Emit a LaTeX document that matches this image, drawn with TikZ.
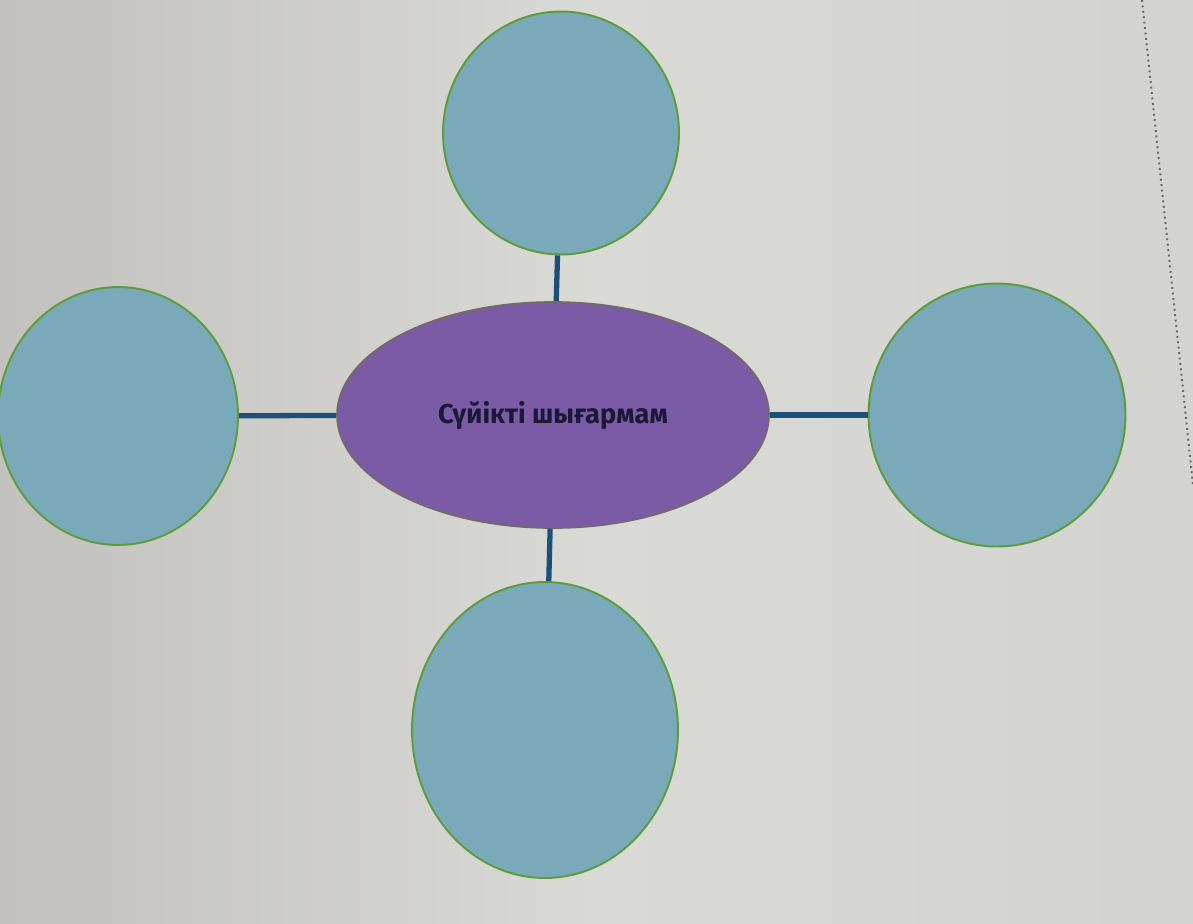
\documentclass[tikz,border=0pt]{standalone}
\usepackage{fontspec}
\setmainfont{Fira Sans}
\usepackage{xcolor}
\usetikzlibrary{shapes.geometric, positioning, backgrounds}

\definecolor{paperdark}{HTML}{C2C1BE}
\definecolor{paperlight}{HTML}{D9D9D6}
\definecolor{bubblefill}{HTML}{7AA9BA}
\definecolor{bubbleline}{HTML}{5E9C3A}
\definecolor{topicfill}{HTML}{7B5BA6}
\definecolor{topicline}{HTML}{716A69}
\definecolor{linkblue}{HTML}{1D4F79}
\definecolor{textnavy}{HTML}{1B1838}

\tikzset{
    bubble/.style={ellipse, fill=bubblefill, draw=bubbleline, line width=1.1pt},
    topic/.style={ellipse, fill=topicfill, draw=topicline, line width=1pt,
        font=\bfseries\fontsize{15.5}{18}\selectfont, text=textnavy},
    link/.style={draw=linkblue, line width=3pt}
}

\begin{document}
\begin{tikzpicture}[x=0.02cm, y=-0.02cm]
    % Page
    \shade[left color=paperdark, right color=paperlight!97!black, middle color=paperlight]
        (0,0) rectangle (1193,923);
    \useasboundingbox (0,0) rectangle (1193,923);
    \draw[gray!80!black, dotted, line width=1.1pt] (1142,0) -- (1193,485);

    % Central node
    \node[topic, minimum width=8.64cm, minimum height=4.52cm] (mid) at (553,415) {Сүйікті шығармам};

    % Outer nodes
    \foreach \name/\pos/\w/\h in {top/{561,133}/4.72/4.86, left/{118,416}/4.80/5.16,
                                   right/{997,415}/5.14/5.26, bottom/{545,730}/5.32/5.92} {
        \node[bubble, minimum width=\w cm, minimum height=\h cm] (\name) at (\pos) {};
        \draw[link] (\name) -- (mid);
    }
\end{tikzpicture}
\end{document}
